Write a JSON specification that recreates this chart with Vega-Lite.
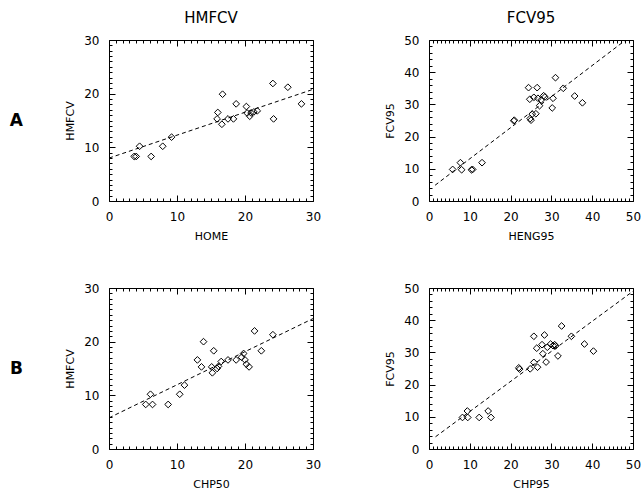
{
  "$schema": "https://vega.github.io/schema/vega-lite/v6.json",
  "background": "white",
  "padding": {"left": 8, "top": 10, "right": 5, "bottom": 5},
  "datasets": {
    "a1": [
      {"x":3.7,"y":8.3},{"x":4.0,"y":8.3},{"x":4.5,"y":10.2},{"x":6.2,"y":8.3},{"x":7.9,"y":10.2},{"x":9.2,"y":11.9},
      {"x":15.9,"y":15.3},{"x":16.0,"y":16.5},{"x":16.6,"y":14.3},{"x":16.7,"y":19.9},{"x":17.5,"y":15.3},{"x":18.3,"y":15.3},
      {"x":18.7,"y":18.1},{"x":20.2,"y":17.6},{"x":20.3,"y":16.4},{"x":20.7,"y":15.8},{"x":20.9,"y":16.4},{"x":21.3,"y":16.6},
      {"x":21.8,"y":16.8},{"x":24.1,"y":21.9},{"x":24.2,"y":15.3},{"x":26.3,"y":21.2},{"x":28.3,"y":18.1}
    ],
    "a1line": [{"x":0,"y":8.0},{"x":30,"y":20.8}],
    "a2": [
      {"x":5.8,"y":9.8},{"x":7.7,"y":11.9},{"x":8.0,"y":9.7},{"x":10.4,"y":9.7},{"x":10.7,"y":9.8},{"x":13.0,"y":11.9},
      {"x":20.8,"y":24.9},{"x":20.9,"y":25.1},{"x":24.4,"y":35.2},{"x":26.5,"y":35.2},{"x":24.7,"y":31.6},{"x":25.7,"y":32.2},
      {"x":26.7,"y":31.9},{"x":27.5,"y":31.4},{"x":28.1,"y":32.7},{"x":28.4,"y":32.3},{"x":30.4,"y":31.9},{"x":31.0,"y":38.3},
      {"x":32.9,"y":35.0},{"x":35.7,"y":32.6},{"x":37.6,"y":30.5},{"x":30.2,"y":28.9},{"x":27.1,"y":29.6},{"x":26.2,"y":27.1},
      {"x":25.3,"y":27.0},{"x":24.8,"y":25.6},{"x":25.0,"y":25.1}
    ],
    "a2line": [{"x":1.5,"y":4.9},{"x":48,"y":49.8}],
    "b1": [
      {"x":5.4,"y":8.3},{"x":6.1,"y":10.2},{"x":6.4,"y":8.3},{"x":8.7,"y":8.3},{"x":10.4,"y":10.2},{"x":11.1,"y":11.9},
      {"x":13.0,"y":16.6},{"x":13.6,"y":15.3},{"x":13.9,"y":20.0},{"x":15.4,"y":18.3},{"x":15.1,"y":15.3},{"x":15.2,"y":14.2},
      {"x":15.9,"y":15.0},{"x":16.1,"y":15.4},{"x":16.5,"y":16.3},{"x":17.5,"y":16.6},{"x":18.7,"y":16.6},{"x":19.5,"y":17.1},
      {"x":19.8,"y":17.8},{"x":20.0,"y":16.6},{"x":20.2,"y":15.8},{"x":20.6,"y":15.3},{"x":21.4,"y":22.0},{"x":22.4,"y":18.3},
      {"x":24.1,"y":21.3}
    ],
    "b1line": [{"x":0,"y":5.8},{"x":30,"y":24.3}],
    "b2": [
      {"x":8.2,"y":9.8},{"x":9.4,"y":11.8},{"x":9.5,"y":9.8},{"x":12.3,"y":9.8},{"x":14.5,"y":11.8},{"x":15.2,"y":9.8},
      {"x":22.0,"y":25.2},{"x":22.2,"y":24.8},{"x":24.8,"y":24.9},{"x":25.7,"y":26.9},{"x":26.6,"y":25.4},{"x":25.7,"y":35.0},
      {"x":28.3,"y":35.4},{"x":26.4,"y":31.3},{"x":27.7,"y":32.4},{"x":27.9,"y":29.6},{"x":28.7,"y":27.0},{"x":29.0,"y":31.6},
      {"x":29.8,"y":32.6},{"x":30.4,"y":32.1},{"x":30.8,"y":32.4},{"x":31.0,"y":32.0},{"x":31.6,"y":28.9},{"x":32.5,"y":38.2},
      {"x":34.9,"y":35.0},{"x":38.1,"y":32.6},{"x":40.3,"y":30.4}
    ],
    "b2line": [{"x":1.6,"y":3.8},{"x":50,"y":49.0}]
  },
  "columns": 2,
  "spacing": {"row": 87, "column": 116},
  "bounds": "flush",
  "concat": [
    {
      "width": 204, "height": 161,
      "title": {"text": "HMFCV", "fontSize": 15, "fontWeight": "normal", "font": "DejaVu Sans", "offset": 8},
      "layer": [
        {"data": {"name": "a1"}, "mark": {"type": "point", "shape": "diamond", "filled": false, "color": "black", "size": 45, "strokeWidth": 1, "opacity": 1},
         "encoding": {
           "x": {"field": "x", "type": "quantitative", "scale": {"domain": [0, 30], "nice": false}, "axis": {"orient": "bottom", "values": [0, 10, 20, 30], "title": "HOME", "tickColor": "black", "tickSize": 6, "offset": -6}},
           "y": {"field": "y", "type": "quantitative", "scale": {"domain": [0, 30], "nice": false}, "axis": {"orient": "left", "values": [0, 10, 20, 30], "title": "HMFCV", "tickColor": "black", "tickSize": 6, "offset": -6}}}},
        {"data": {"name": "a1line"}, "mark": {"type": "line", "color": "black", "strokeWidth": 1, "strokeDash": [4, 3]},
         "encoding": {
           "x": {"field": "x", "type": "quantitative", "axis": {"orient": "top", "values": [0, 10, 20, 30], "labels": false, "title": null, "tickColor": "black", "tickSize": 6, "offset": -6}},
           "y": {"field": "y", "type": "quantitative", "axis": {"orient": "right", "values": [0, 10, 20, 30], "labels": false, "title": null, "tickColor": "black", "tickSize": 6, "offset": -6}}}},
        {"data": {"name": "a1line"}, "mark": {"type": "line", "strokeOpacity": 0},
         "encoding": {
           "x": {"field": "x", "type": "quantitative", "axis": {"orient": "bottom", "values": [1,2,3,4,5,6,7,8,9,11,12,13,14,15,16,17,18,19,21,22,23,24,25,26,27,28,29], "labels": false, "title": null, "tickColor": "black", "tickSize": 3, "offset": -3}},
           "y": {"field": "y", "type": "quantitative", "axis": {"orient": "left", "values": [1,2,3,4,5,6,7,8,9,11,12,13,14,15,16,17,18,19,21,22,23,24,25,26,27,28,29], "labels": false, "tickColor": "black", "tickSize": 3, "offset": -3, "title": "A", "titleAngle": 0, "titleAlign": "right", "titleBaseline": "middle", "titleFontSize": 17, "titleFontWeight": "bold", "titlePadding": 86}}}},
        {"data": {"name": "a1line"}, "mark": {"type": "line", "strokeOpacity": 0},
         "encoding": {
           "x": {"field": "x", "type": "quantitative", "axis": {"orient": "top", "values": [1,2,3,4,5,6,7,8,9,11,12,13,14,15,16,17,18,19,21,22,23,24,25,26,27,28,29], "labels": false, "title": null, "tickColor": "black", "tickSize": 3, "offset": -3}},
           "y": {"field": "y", "type": "quantitative", "axis": {"orient": "right", "values": [1,2,3,4,5,6,7,8,9,11,12,13,14,15,16,17,18,19,21,22,23,24,25,26,27,28,29], "labels": false, "title": null, "tickColor": "black", "tickSize": 3, "offset": -3}}}}
      ],
      "resolve": {"axis": {"x": "independent", "y": "independent"}}
    },
    {
      "width": 204, "height": 161,
      "title": {"text": "FCV95", "fontSize": 15, "fontWeight": "normal", "font": "DejaVu Sans", "offset": 8},
      "layer": [
        {"data": {"name": "a2"}, "mark": {"type": "point", "shape": "diamond", "filled": false, "color": "black", "size": 45, "strokeWidth": 1, "opacity": 1},
         "encoding": {
           "x": {"field": "x", "type": "quantitative", "scale": {"domain": [0, 50], "nice": false}, "axis": {"orient": "bottom", "values": [0, 10, 20, 30, 40, 50], "title": "HENG95", "tickColor": "black", "tickSize": 6, "offset": -6}},
           "y": {"field": "y", "type": "quantitative", "scale": {"domain": [0, 50], "nice": false}, "axis": {"orient": "left", "values": [0, 10, 20, 30, 40, 50], "title": "FCV95", "tickColor": "black", "tickSize": 6, "offset": -6}}}},
        {"data": {"name": "a2line"}, "mark": {"type": "line", "color": "black", "strokeWidth": 1, "strokeDash": [4, 3]},
         "encoding": {
           "x": {"field": "x", "type": "quantitative", "axis": {"orient": "top", "values": [0, 10, 20, 30, 40, 50], "labels": false, "title": null, "tickColor": "black", "tickSize": 6, "offset": -6}},
           "y": {"field": "y", "type": "quantitative", "axis": {"orient": "right", "values": [0, 10, 20, 30, 40, 50], "labels": false, "title": null, "tickColor": "black", "tickSize": 6, "offset": -6}}}},
        {"data": {"name": "a2line"}, "mark": {"type": "line", "strokeOpacity": 0},
         "encoding": {
           "x": {"field": "x", "type": "quantitative", "axis": {"orient": "bottom", "values": [1,2,3,4,5,6,7,8,9,11,12,13,14,15,16,17,18,19,21,22,23,24,25,26,27,28,29,31,32,33,34,35,36,37,38,39,41,42,43,44,45,46,47,48,49], "labels": false, "title": null, "tickColor": "black", "tickSize": 3, "offset": -3}},
           "y": {"field": "y", "type": "quantitative", "axis": {"orient": "left", "values": [2,4,6,8,12,14,16,18,22,24,26,28,32,34,36,38,42,44,46,48], "labels": false, "title": null, "tickColor": "black", "tickSize": 3, "offset": -3}}}},
        {"data": {"name": "a2line"}, "mark": {"type": "line", "strokeOpacity": 0},
         "encoding": {
           "x": {"field": "x", "type": "quantitative", "axis": {"orient": "top", "values": [1,2,3,4,5,6,7,8,9,11,12,13,14,15,16,17,18,19,21,22,23,24,25,26,27,28,29,31,32,33,34,35,36,37,38,39,41,42,43,44,45,46,47,48,49], "labels": false, "title": null, "tickColor": "black", "tickSize": 3, "offset": -3}},
           "y": {"field": "y", "type": "quantitative", "axis": {"orient": "right", "values": [2,4,6,8,12,14,16,18,22,24,26,28,32,34,36,38,42,44,46,48], "labels": false, "title": null, "tickColor": "black", "tickSize": 3, "offset": -3}}}}
      ],
      "resolve": {"axis": {"x": "independent", "y": "independent"}}
    },
    {
      "width": 204, "height": 161,
      "layer": [
        {"data": {"name": "b1"}, "mark": {"type": "point", "shape": "diamond", "filled": false, "color": "black", "size": 45, "strokeWidth": 1, "opacity": 1},
         "encoding": {
           "x": {"field": "x", "type": "quantitative", "scale": {"domain": [0, 30], "nice": false}, "axis": {"orient": "bottom", "values": [0, 10, 20, 30], "title": "CHP50", "tickColor": "black", "tickSize": 6, "offset": -6}},
           "y": {"field": "y", "type": "quantitative", "scale": {"domain": [0, 30], "nice": false}, "axis": {"orient": "left", "values": [0, 10, 20, 30], "title": "HMFCV", "tickColor": "black", "tickSize": 6, "offset": -6}}}},
        {"data": {"name": "b1line"}, "mark": {"type": "line", "color": "black", "strokeWidth": 1, "strokeDash": [4, 3]},
         "encoding": {
           "x": {"field": "x", "type": "quantitative", "axis": {"orient": "top", "values": [0, 10, 20, 30], "labels": false, "title": null, "tickColor": "black", "tickSize": 6, "offset": -6}},
           "y": {"field": "y", "type": "quantitative", "axis": {"orient": "right", "values": [0, 10, 20, 30], "labels": false, "title": null, "tickColor": "black", "tickSize": 6, "offset": -6}}}},
        {"data": {"name": "b1line"}, "mark": {"type": "line", "strokeOpacity": 0},
         "encoding": {
           "x": {"field": "x", "type": "quantitative", "axis": {"orient": "bottom", "values": [1,2,3,4,5,6,7,8,9,11,12,13,14,15,16,17,18,19,21,22,23,24,25,26,27,28,29], "labels": false, "title": null, "tickColor": "black", "tickSize": 3, "offset": -3}},
           "y": {"field": "y", "type": "quantitative", "axis": {"orient": "left", "values": [1,2,3,4,5,6,7,8,9,11,12,13,14,15,16,17,18,19,21,22,23,24,25,26,27,28,29], "labels": false, "tickColor": "black", "tickSize": 3, "offset": -3, "title": "B", "titleAngle": 0, "titleAlign": "right", "titleBaseline": "middle", "titleFontSize": 17, "titleFontWeight": "bold", "titlePadding": 86}}}},
        {"data": {"name": "b1line"}, "mark": {"type": "line", "strokeOpacity": 0},
         "encoding": {
           "x": {"field": "x", "type": "quantitative", "axis": {"orient": "top", "values": [1,2,3,4,5,6,7,8,9,11,12,13,14,15,16,17,18,19,21,22,23,24,25,26,27,28,29], "labels": false, "title": null, "tickColor": "black", "tickSize": 3, "offset": -3}},
           "y": {"field": "y", "type": "quantitative", "axis": {"orient": "right", "values": [1,2,3,4,5,6,7,8,9,11,12,13,14,15,16,17,18,19,21,22,23,24,25,26,27,28,29], "labels": false, "title": null, "tickColor": "black", "tickSize": 3, "offset": -3}}}}
      ],
      "resolve": {"axis": {"x": "independent", "y": "independent"}}
    },
    {
      "width": 204, "height": 161,
      "layer": [
        {"data": {"name": "b2"}, "mark": {"type": "point", "shape": "diamond", "filled": false, "color": "black", "size": 45, "strokeWidth": 1, "opacity": 1},
         "encoding": {
           "x": {"field": "x", "type": "quantitative", "scale": {"domain": [0, 50], "nice": false}, "axis": {"orient": "bottom", "values": [0, 10, 20, 30, 40, 50], "title": "CHP95", "tickColor": "black", "tickSize": 6, "offset": -6}},
           "y": {"field": "y", "type": "quantitative", "scale": {"domain": [0, 50], "nice": false}, "axis": {"orient": "left", "values": [0, 10, 20, 30, 40, 50], "title": "FCV95", "tickColor": "black", "tickSize": 6, "offset": -6}}}},
        {"data": {"name": "b2line"}, "mark": {"type": "line", "color": "black", "strokeWidth": 1, "strokeDash": [4, 3]},
         "encoding": {
           "x": {"field": "x", "type": "quantitative", "axis": {"orient": "top", "values": [0, 10, 20, 30, 40, 50], "labels": false, "title": null, "tickColor": "black", "tickSize": 6, "offset": -6}},
           "y": {"field": "y", "type": "quantitative", "axis": {"orient": "right", "values": [0, 10, 20, 30, 40, 50], "labels": false, "title": null, "tickColor": "black", "tickSize": 6, "offset": -6}}}},
        {"data": {"name": "b2line"}, "mark": {"type": "line", "strokeOpacity": 0},
         "encoding": {
           "x": {"field": "x", "type": "quantitative", "axis": {"orient": "bottom", "values": [1,2,3,4,5,6,7,8,9,11,12,13,14,15,16,17,18,19,21,22,23,24,25,26,27,28,29,31,32,33,34,35,36,37,38,39,41,42,43,44,45,46,47,48,49], "labels": false, "title": null, "tickColor": "black", "tickSize": 3, "offset": -3}},
           "y": {"field": "y", "type": "quantitative", "axis": {"orient": "left", "values": [2,4,6,8,12,14,16,18,22,24,26,28,32,34,36,38,42,44,46,48], "labels": false, "title": null, "tickColor": "black", "tickSize": 3, "offset": -3}}}},
        {"data": {"name": "b2line"}, "mark": {"type": "line", "strokeOpacity": 0},
         "encoding": {
           "x": {"field": "x", "type": "quantitative", "axis": {"orient": "top", "values": [1,2,3,4,5,6,7,8,9,11,12,13,14,15,16,17,18,19,21,22,23,24,25,26,27,28,29,31,32,33,34,35,36,37,38,39,41,42,43,44,45,46,47,48,49], "labels": false, "title": null, "tickColor": "black", "tickSize": 3, "offset": -3}},
           "y": {"field": "y", "type": "quantitative", "axis": {"orient": "right", "values": [2,4,6,8,12,14,16,18,22,24,26,28,32,34,36,38,42,44,46,48], "labels": false, "title": null, "tickColor": "black", "tickSize": 3, "offset": -3}}}}
      ],
      "resolve": {"axis": {"x": "independent", "y": "independent"}}
    }
  ],
  "config": {
    "font": "DejaVu Sans",
    "view": {"stroke": "black", "strokeWidth": 1},
    "axis": {
      "domain": false,
      "grid": false,
      "labelPadding": 10,
      "labelFont": "DejaVu Sans",
      "labelFontSize": 12,
      "labelColor": "black",
      "labelFlush": false,
      "labelOverlap": false,
      "titleFont": "DejaVu Sans",
      "titleFontSize": 11,
      "titleFontWeight": "normal",
      "titleColor": "black",
      "titlePadding": 8
    },
    "title": {"color": "black"}
  }
}
